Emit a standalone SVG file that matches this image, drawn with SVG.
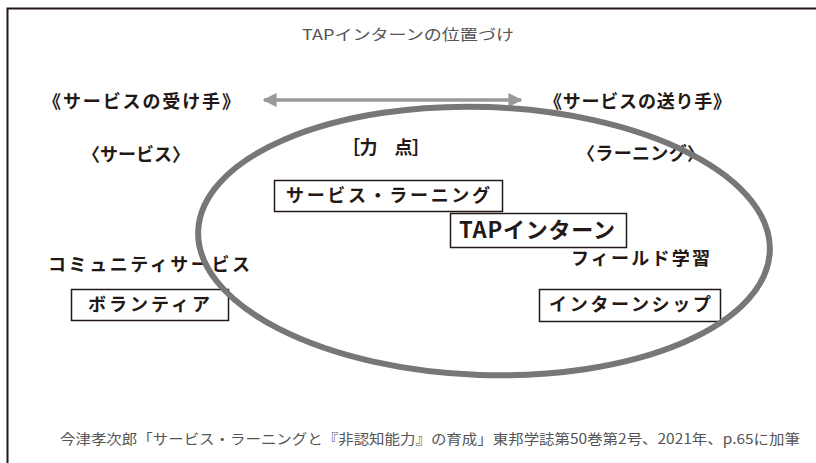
<svg xmlns="http://www.w3.org/2000/svg" width="816" height="463" viewBox="0 0 816 463">
<style>
.b{font-family:"Noto Sans CJK JP","Noto Sans",sans-serif;font-weight:700;fill:#231815}
.t{font-family:"Noto Sans CJK JP","Noto Sans",sans-serif;font-weight:400;fill:#555}
.box{fill:#fff;stroke:#231815;stroke-width:1.5}
</style>
<defs>
<marker id="ah" viewBox="0 0 10 10" refX="9" refY="5" markerWidth="4" markerHeight="4" orient="auto-start-reverse">
<path d="M0,0 L10,5 L0,10 z" fill="#999"/>
</marker>
</defs>
<rect width="816" height="463" fill="#fff"/>
<path d="M7.5,463 V8.5 H816" fill="none" stroke="#231815" stroke-width="2"/>
<text class="t" x="408" y="40" font-size="15" text-anchor="middle" textLength="212" lengthAdjust="spacingAndGlyphs">TAPインターンの位置づけ</text>
<g id="connectors">
<line x1="264" y1="100" x2="521" y2="100" stroke="#999" stroke-width="3.5" marker-start="url(#ah)" marker-end="url(#ah)"/>
</g>
<g id="n-receiver"><text class="b" x="43" y="108" font-size="18" textLength="197" lengthAdjust="spacing">《サービスの受け手》</text></g>
<g id="n-sender"><text class="b" x="544" y="108" font-size="18" textLength="187" lengthAdjust="spacing">《サービスの送り手》</text></g>
<g id="n-service"><text class="b" x="82" y="161" font-size="18" textLength="108" lengthAdjust="spacing">〈サービス〉</text></g>
<g id="n-focus"><text class="b" x="342" y="154" font-size="18" textLength="88" lengthAdjust="spacing">［力　点］</text></g>
<g id="n-learning"><text class="b" x="577" y="160" font-size="18" textLength="128" lengthAdjust="spacing">〈ラーニング〉</text></g>
<g id="n-sl"><rect class="box" x="274.5" y="180.5" width="228" height="31"/><text class="b" x="286" y="202" font-size="18" textLength="204" lengthAdjust="spacing">サービス・ラーニング</text></g>
<g id="n-tap"><rect class="box" x="450.5" y="213.5" width="176" height="34"/><text class="b" x="459" y="238" font-size="22" textLength="156" lengthAdjust="spacing">TAPインターン</text></g>
<g id="n-field"><text class="b" x="571" y="265" font-size="18" textLength="139" lengthAdjust="spacing">フィールド学習</text></g>
<g id="n-community"><text class="b" x="48" y="271" font-size="18" textLength="202" lengthAdjust="spacing">コミュニティサービス</text></g>
<g id="n-volunteer"><rect class="box" x="71.5" y="289.5" width="157" height="31"/><text class="b" x="88" y="311" font-size="18" textLength="122" lengthAdjust="spacing">ボランティア</text></g>
<g id="n-intern"><rect class="box" x="539.5" y="289.5" width="181" height="32"/><text class="b" x="549" y="311" font-size="18" textLength="162" lengthAdjust="spacing">インターンシップ</text></g>
<g id="ellipse"><ellipse cx="484" cy="241" rx="286" ry="134" transform="rotate(2 484 241)" fill="none" stroke="#777" stroke-width="6"/></g>
<text class="t" x="60" y="444" font-size="14" fill="#444" textLength="740" lengthAdjust="spacingAndGlyphs">今津孝次郎「サービス・ラーニングと『非認知能力』の育成」東邦学誌第50巻第2号、2021年、p.65に加筆</text>
</svg>
